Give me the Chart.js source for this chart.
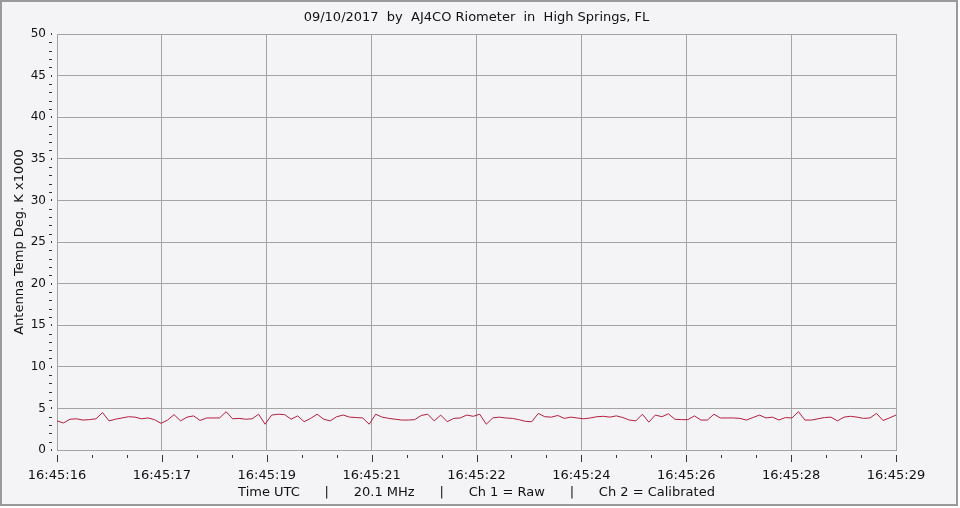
<!DOCTYPE html>
<html>
<head>
<meta charset="utf-8">
<script src="https://cdn.jsdelivr.net/npm/chart.js@4.4.0/dist/chart.umd.min.js"></script>
<style>
  html,body{margin:0;padding:0;background:#fff;}
  #wrap{width:960px;height:508px;position:relative;}
</style>
</head>
<body>
<div id="wrap"><canvas id="chart" width="960" height="508"></canvas></div>
<script>
// --- donnees ---
const titleText = "09/10/2017  by  AJ4CO Riometer  in  High Springs, FL";
const yTitle = "Antenna Temp Deg. K x1000";
const xTitle = "Time UTC      |      20.1 MHz      |      Ch 1 = Raw      |      Ch 2 = Calibrated";
const xLabels = ["16:45:16","16:45:17","16:45:19","16:45:21","16:45:22","16:45:24","16:45:26","16:45:28","16:45:29"];
const yMin = 0, yMax = 50, yStep = 5;

// Ch 1 (K x1000), un echantillon par point
const ch1 = [
  3.5,3.25,3.7,3.75,3.6,3.65,3.75,4.5,3.5,3.7,
  3.85,4.0,3.95,3.75,3.85,3.65,3.2,3.6,4.25,3.5,
  3.95,4.1,3.55,3.85,3.85,3.85,4.6,3.75,3.8,3.7,
  3.75,4.3,3.1,4.2,4.3,4.25,3.7,4.1,3.4,3.8,
  4.3,3.7,3.5,4.0,4.2,3.95,3.9,3.85,3.1,4.3,
  3.95,3.8,3.7,3.6,3.6,3.65,4.15,4.3,3.5,4.2,
  3.4,3.8,3.85,4.2,4.05,4.3,3.1,3.85,3.95,3.85,
  3.8,3.65,3.45,3.4,4.4,4.0,3.95,4.15,3.8,3.95,
  3.85,3.75,3.85,4.0,4.05,3.95,4.1,3.9,3.6,3.5,
  4.3,3.35,4.2,4.0,4.35,3.7,3.65,3.65,4.1,3.6,
  3.6,4.3,3.85,3.85,3.85,3.8,3.6,3.9,4.2,3.85,
  3.95,3.6,3.9,3.85,4.6,3.6,3.6,3.75,3.9,3.95,
  3.5,3.95,4.05,3.95,3.8,3.85,4.4,3.55,3.85,4.2
];

const gridCol = "#a4a4a4";
const lineCol = "#b3203e";
const bgCol = "#f4f4f6";
const FONT = "DejaVu Sans";

// position x de chaque echantillon sur l'axe (en divisions)
const span = xLabels.length - 1;
const points = ch1.map((v,i)=>({x: i*span/(ch1.length-1), y: v}));

// fond + cadre + titre + petites graduations
const decor = {
  id:'decor',
  beforeDraw(chart){
    const ctx = chart.ctx;
    ctx.save();
    ctx.fillStyle = '#fff';
    ctx.fillRect(0,0,chart.width,chart.height);
    ctx.fillStyle = bgCol;
    ctx.fillRect(0,0,958,506);
    ctx.strokeStyle = '#9a9a9a';
    ctx.lineWidth = 2;
    ctx.strokeRect(1,1,956,504);
    ctx.restore();
  },
  afterDraw(chart){
    const ctx = chart.ctx;
    const ys = chart.scales.y, xs = chart.scales.x;
    const area = chart.chartArea;
    ctx.save();
    // titre centre sur la zone du graphe
    ctx.fillStyle = '#111';
    ctx.font = '13px "' + FONT + '"';
    ctx.textAlign = 'center';
    ctx.textBaseline = 'middle';
    ctx.fillText(titleText, (area.left+area.right)/2, 18);

    ctx.fillStyle = '#333';
    // graduations Y (une par unite)
    for(let v=yMin; v<=yMax; v++){
      const py = Math.round(ys.getPixelForValue(v));
      if(v % yStep === 0) ctx.fillRect(area.left-6, py-1, 1, 2);
      else ctx.fillRect(area.left-8, py, 3, 1);
    }
    // graduations X (3 sous-divisions)
    for(let k=0; k<=span*3; k++){
      const px = Math.round(xs.getPixelForValue(k/3));
      if(k % 3 === 0) ctx.fillRect(px, area.bottom+5, 1, 7);
      else ctx.fillRect(px, area.bottom+5, 1, 3);
    }
    ctx.restore();
  }
};

new Chart(document.getElementById('chart').getContext('2d'),{
  type:'line',
  data:{datasets:[{
    label:'Ch 1',
    data:points,
    borderColor:lineCol,
    borderWidth:1,
    pointRadius:0,
    tension:0,
    fill:false
  }]},
  options:{
    responsive:false,
    animation:false,
    layout:{padding:{top:34,right:64,bottom:0,left:0}},
    plugins:{
      legend:{display:false},
      tooltip:{enabled:false},
      title:{display:false}
    },
    scales:{
      x:{
        type:'linear',
        min:0, max:span,
        afterFit(s){ s.height = 58; },
        ticks:{
          stepSize:1,
          autoSkip:false,
          maxRotation:0,
          padding:18,
          color:'#111',
          font:{family:FONT,size:13},
          callback:(v)=>xLabels[v] ?? ''
        },
        grid:{color:gridCol,drawTicks:false,lineWidth:1},
        border:{color:gridCol},
        title:{
          display:true,
          text:xTitle,
          color:'#111',
          font:{family:FONT,size:13},
          padding:{top:0,bottom:8}
        }
      },
      y:{
        min:yMin, max:yMax,
        afterFit(s){ s.width = 57; },
        ticks:{
          stepSize:yStep,
          padding:11,
          color:'#111',
          font:{family:FONT,size:12}
        },
        grid:{color:gridCol,drawTicks:false,lineWidth:1},
        border:{color:gridCol},
        title:{
          display:true,
          text:yTitle,
          color:'#111',
          font:{family:FONT,size:13},
          padding:{top:12,bottom:0}
        }
      }
    }
  },
  plugins:[decor]
});
</script>
</body>
</html>
